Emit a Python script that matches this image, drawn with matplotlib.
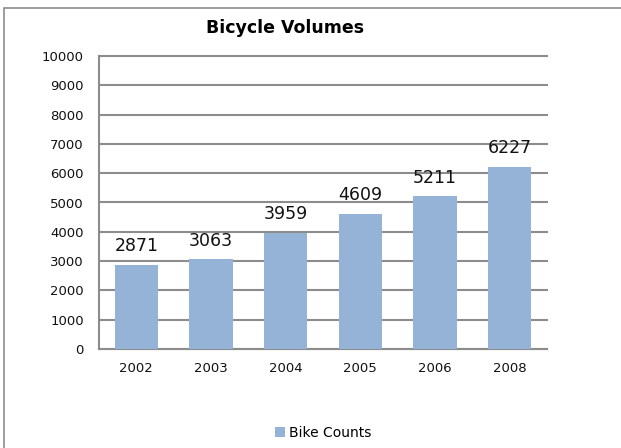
import matplotlib
matplotlib.use("Agg")
import matplotlib.pyplot as plt
from matplotlib.patches import Rectangle

# Data
years = ["2002", "2003", "2004", "2005", "2006", "2008"]
counts = [2871, 3063, 3959, 4609, 5211, 6227]
series_name = "Bike Counts"
y_ticks = list(range(0, 10001, 1000))

bar_color = "#95B3D7"
grid_color = "#8C8C8C"

plt.rcParams["font.family"] = ["DejaVu Sans"]

fig = plt.figure(figsize=(6.21, 4.48), dpi=100)
ax = fig.add_axes([99 / 621, 1 - 349 / 448, 448 / 621, 293 / 448])

x = list(range(len(years)))
bars = ax.bar(x, counts, width=0.58, color=bar_color, label=series_name, zorder=3)

for xi, v in zip(x, counts):
    ax.annotate(str(v), (xi, v), xytext=(0, 7), textcoords="offset points",
                ha="center", va="bottom", fontsize=12.5, color="#111111")

ax.set_xlim(-0.5, len(years) - 0.5)
ax.set_ylim(0, 10000)
ax.set_yticks(y_ticks)
ax.set_xticks(x)
ax.set_xticklabels(years)
ax.tick_params(axis="both", length=0, labelsize=9.5, colors="#111111")
ax.tick_params(axis="y", pad=11)
ax.tick_params(axis="x", pad=9)

ax.grid(axis="y", color=grid_color, linewidth=1.5, zorder=0)
for gl in ax.get_ygridlines():
    gl.set_clip_on(False)
for side in ["top", "right"]:
    ax.spines[side].set_visible(False)
for side in ["left", "bottom"]:
    ax.spines[side].set_color(grid_color)
    ax.spines[side].set_linewidth(1.5)

fig.text(285 / 621, 1 - 28 / 448, "Bicycle Volumes", ha="center", va="center",
         fontsize=12.5, fontweight="bold")

leg = fig.legend(handles=[bars], labels=[series_name], loc="center",
                 bbox_to_anchor=(323 / 621, 1 - 433 / 448), frameon=False,
                 fontsize=10, handlelength=0.7, handleheight=0.7, handletextpad=0.3)

# chart border (cut off at right and bottom)
fig.add_artist(Rectangle((4 / 621, -0.1), 1.2, 1 - 8 / 448 + 0.1,
                         transform=fig.transFigure, fill=False,
                         edgecolor="#8C8C8C", linewidth=1.2))

fig.savefig("out.png", dpi=100)
